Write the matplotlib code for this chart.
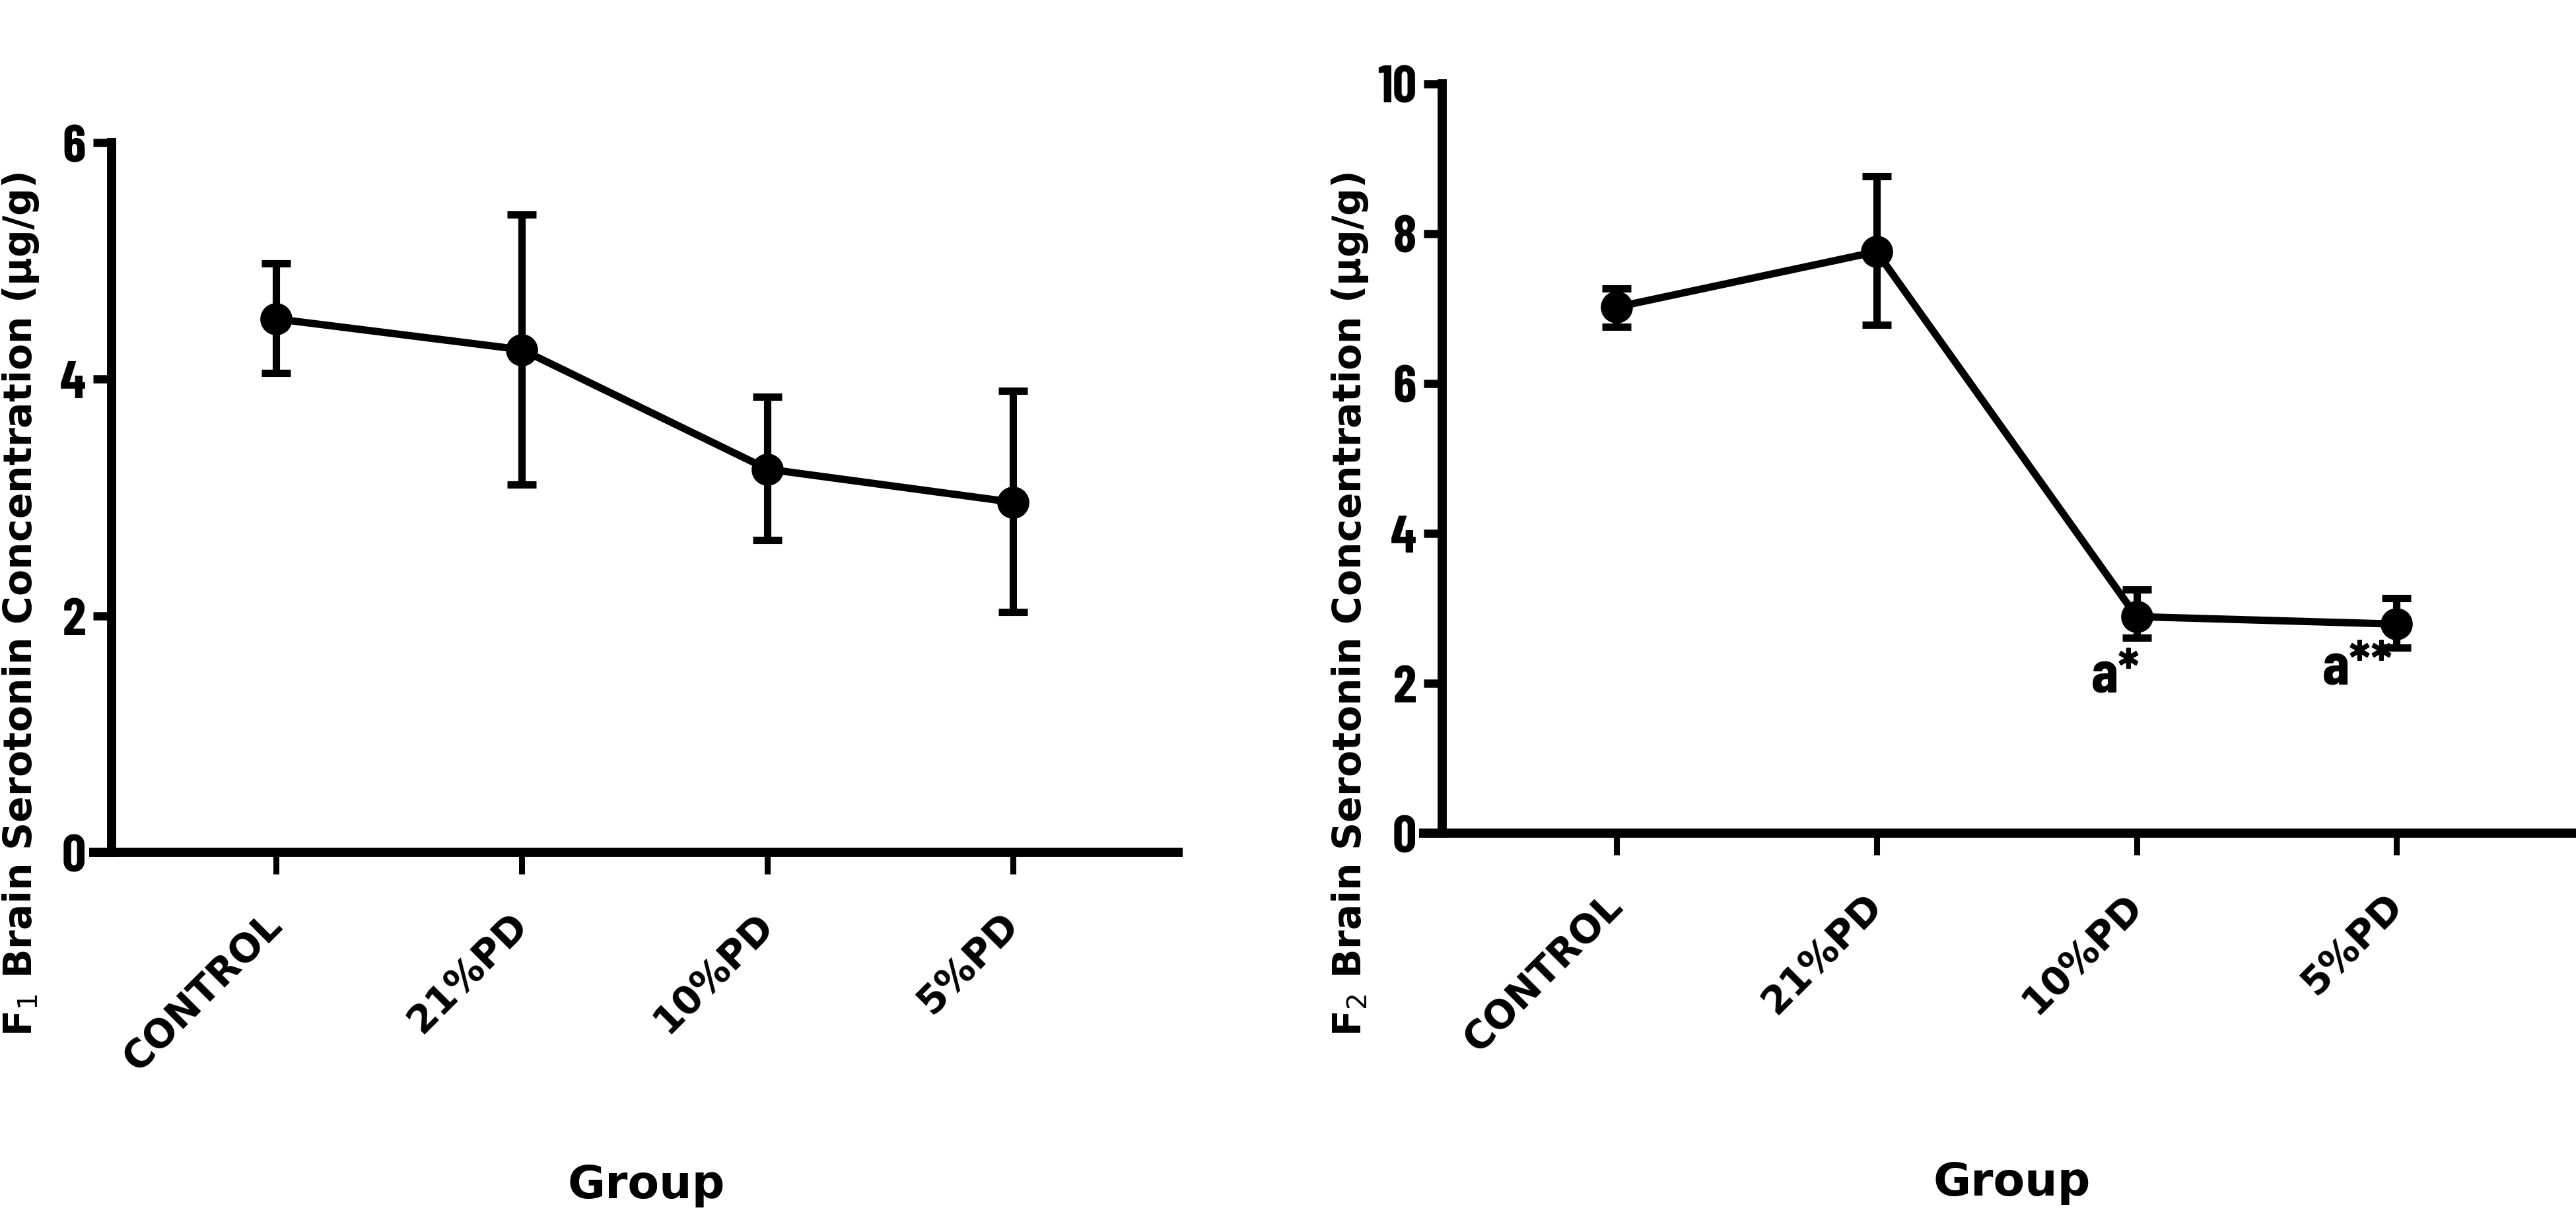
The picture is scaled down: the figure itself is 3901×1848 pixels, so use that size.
import matplotlib
matplotlib.use("Agg")
import matplotlib.pyplot as plt
from matplotlib import font_manager

groups = ["CONTROL", "21%PD", "10%PD", "5%PD"]
f1_mean = [4.51, 4.25, 3.24, 2.96]
f1_low = [4.05, 3.11, 2.64, 2.03]
f1_high = [4.98, 5.39, 3.85, 3.90]
f2_mean = [7.02, 7.76, 2.89, 2.79]
f2_low = [6.76, 6.78, 2.61, 2.48]
f2_high = [7.27, 8.77, 3.25, 3.14]
f2_marks = ["", "", "a*", "a**"]

names = {f.name for f in font_manager.fontManager.ttflist}
narrow = "DejaVu Sans"
for cand in ["Liberation Sans Narrow", "Barlow Condensed", "Asap Condensed"]:
    if cand in names:
        narrow = cand
        break
wide = "DejaVu Sans"

fig = plt.figure(figsize=(39.01, 18.49), dpi=100)
ax1 = fig.add_axes([0.0433, 0.3012, 0.4158, 0.5814])
ax2 = fig.add_axes([0.5599, 0.3169, 0.4401, 0.6139])


def draw(ax, mean, low, high, ymax, step):
    x = list(range(len(mean)))
    err = [[m - l for m, l in zip(mean, low)], [h - m for m, h in zip(mean, high)]]
    ax.errorbar(x, mean, yerr=err, color="black", lw=8, elinewidth=8,
                capsize=16, capthick=8, marker="o", ms=34, zorder=3,
                clip_on=False)
    ax.set_xlim(-0.67, 3.69)
    ax.set_ylim(0, ymax)
    ax.spines["top"].set_visible(False)
    ax.spines["right"].set_visible(False)
    for s in ("left", "bottom"):
        ax.spines[s].set_linewidth(10)
    ax.spines["bottom"].set_bounds(-0.76, 3.69)
    ax.spines["bottom"].set_capstyle("butt")
    ax.set_yticks(range(0, ymax + 1, step))
    ax.set_xticks(x)
    ax.tick_params(axis="y", length=20, width=9, pad=8)
    ax.tick_params(axis="x", length=24, width=6.5, pad=48)
    for t in ax.get_yticklabels():
        t.set_fontfamily(narrow)
        t.set_fontweight("bold")
        t.set_fontsize(58)
    ax.set_xticklabels(groups, rotation=45, ha="right", va="center",
                       rotation_mode="anchor", fontfamily=wide,
                       fontweight="bold", fontsize=42)


draw(ax1, f1_mean, f1_low, f1_high, 6, 2)
draw(ax2, f2_mean, f2_low, f2_high, 10, 2)

mark_pos = [(0, 0), (0, 0), (1.92, 2.1), (2.85, 2.2)]
for lab, (px, py) in zip(f2_marks, mark_pos):
    if lab:
        ax2.text(px, py, lab, ha="center", va="center", fontfamily=narrow,
                 fontweight="bold", fontsize=66)

fig.text(0.008, 0.505, "F$_1$ Brain Serotonin Concentration (µg/g)", rotation=90,
         ha="center", va="center", fontfamily=wide, fontweight="bold", fontsize=42)
fig.text(0.524, 0.505, "F$_2$ Brain Serotonin Concentration (µg/g)", rotation=90,
         ha="center", va="center", fontfamily=wide, fontweight="bold", fontsize=42)
fig.text(0.251, 0.029, "Group", ha="center", va="center", fontfamily=wide,
         fontweight="bold", fontsize=50)
fig.text(0.781, 0.031, "Group", ha="center", va="center", fontfamily=wide,
         fontweight="bold", fontsize=50)

fig.savefig("out.png", dpi=100)
